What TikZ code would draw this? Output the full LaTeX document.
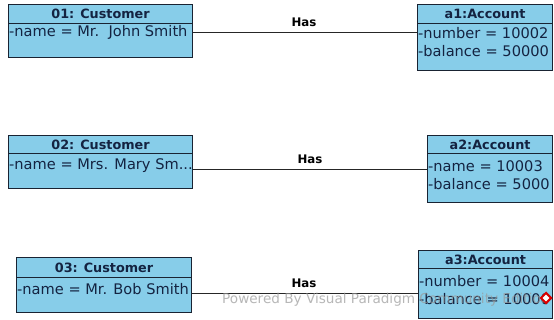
\documentclass[tikz,border=0pt]{standalone}
\usepackage{fontspec}
\setmainfont{DejaVu Sans}
\usetikzlibrary{calc,shapes.geometric}
\definecolor{objfill}{RGB}{135,205,233}
\definecolor{objline}{RGB}{25,35,50}
\definecolor{objtext}{RGB}{20,35,65}
\tikzset{
  x=1pt, y=-1pt,
  objpart/.style={draw=objline, line width=1.1pt, fill=objfill, rectangle, inner sep=0pt, anchor=north west},
  titletext/.style={font=\fontsize{12.8}{15}\selectfont\bfseries, text=objtext, inner sep=0pt},
  attrtext/.style={font=\fontsize{14.6}{17}\selectfont, text=objtext, anchor=west, inner sep=0pt},
  link/.style={draw=black!85, line width=0.9pt},
  linklabel/.style={font=\fontsize{11.8}{13}\selectfont\bfseries, text=black, inner sep=0pt},
}
\begin{document}
\begin{tikzpicture}
\useasboundingbox[fill=white] (0,0) rectangle (554,320);

% --- object 01: Customer
\node[objpart, minimum width=184pt, minimum height=19pt] (c1t) at (8,4) {};
\node[objpart, minimum width=184pt, minimum height=34pt] (c1b) at (8,23) {};
\node[titletext] (c1n) at (c1t.center) {01: Customer};
\node[attrtext] (c1a) at (9,32) {-name = Mr.\ \ John Smith};

% --- object a1:Account
\node[objpart, minimum width=135pt, minimum height=19pt] (a1t) at (417,4) {};
\node[objpart, minimum width=135pt, minimum height=47pt] (a1b) at (417,23) {};
\node[titletext] (a1n) at (a1t.center) {a1:Account};
\node[attrtext] (a1x) at (418,33) {-number = 10002};
\node[attrtext] (a1y) at (418,51) {-balance = 50000};

% --- object 02: Customer
\node[objpart, minimum width=184pt, minimum height=18pt] (c2t) at (8,135) {};
\node[objpart, minimum width=184pt, minimum height=35pt] (c2b) at (8,153) {};
\node[titletext] (c2n) at (c2t.center) {02: Customer};
\node[attrtext] (c2a) at (9,166) {-name = Mrs. Mary Sm...};

% --- object a2:Account
\node[objpart, minimum width=125pt, minimum height=18pt] (a2t) at (427,135) {};
\node[objpart, minimum width=125pt, minimum height=49pt] (a2b) at (427,153) {};
\node[titletext] (a2n) at (a2t.center) {a2:Account};
\node[attrtext] (a2x) at (428,166) {-name = 10003};
\node[attrtext] (a2y) at (428,184) {-balance = 5000};

% --- object 03: Customer
\node[objpart, minimum width=175pt, minimum height=20pt] (c3t) at (16,257) {};
\node[objpart, minimum width=175pt, minimum height=35pt] (c3b) at (16,277) {};
\node[titletext] (c3n) at (c3t.center) {03: Customer};
\node[attrtext] (c3a) at (17,289) {-name = Mr. Bob Smith};

% --- object a3:Account
\node[objpart, minimum width=134pt, minimum height=18pt] (a3t) at (418,250) {};
\node[objpart, minimum width=134pt, minimum height=50pt] (a3b) at (418,268) {};
\node[titletext] (a3n) at (a3t.center) {a3:Account};
\node[attrtext] (a3x) at (419,281) {-number = 10004};
\node[attrtext] (a3y) at (419,299) {-balance = 10000};

% --- links
\coordinate (l1) at (0,32);
\coordinate (l2) at (0,169);
\coordinate (l3) at (0,293);
\draw[link] (c1b.east |- l1) -- (a1b.west |- l1);
\draw[link] (c2b.east |- l2) -- (a2b.west |- l2);
\draw[link] (c3b.east |- l3) -- (a3b.west |- l3);
\node[linklabel] (h1) at (304,22) {Has};
\node[linklabel] (h2) at (310,159) {Has};
\node[linklabel] (h3) at (304,283) {Has};

% --- edition watermark
\node[font=\fontsize{13.6}{15}\selectfont, text=black!40, opacity=0.7, anchor=west, inner sep=0pt] (wm) at (222,300) {Powered By Visual Paradigm Community Edition};
\node[draw=red!85!black, fill=white, line width=2pt, diamond, minimum size=11pt, inner sep=0pt, shape aspect=1] (logo) at (546,298) {};
\end{tikzpicture}
\end{document}
